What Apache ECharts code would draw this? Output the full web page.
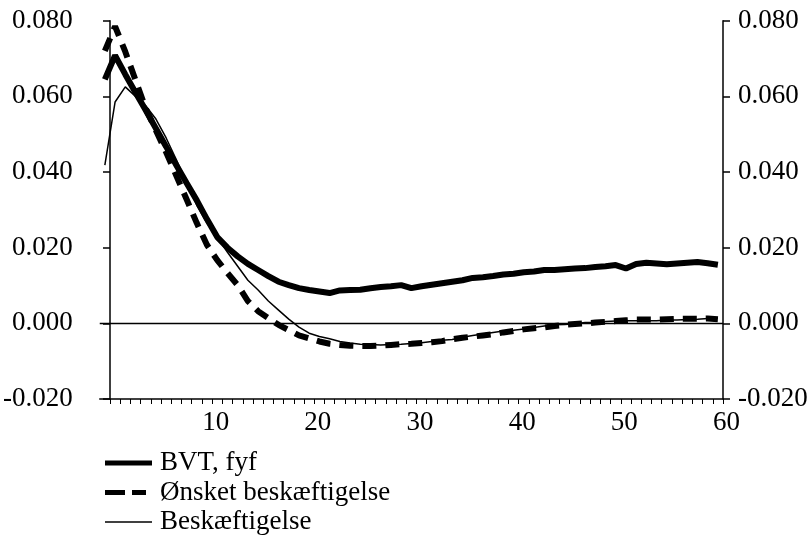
<!DOCTYPE html>
<html>
<head>
<meta charset="utf-8">
<script src="https://cdn.jsdelivr.net/npm/echarts@6/dist/echarts.min.js"></script>
<style>
html,body{margin:0;padding:0;background:#fff;}
#chart{width:811px;height:538px;}
</style>
</head>
<body>
<div id="chart"></div>
<script>
// Periods (horizontal positions, one per observation)
const periods = [0,1,2,3,4,5,6,7,8,9,10,11,12,13,14,15,16,17,18,19,20,21,22,23,24,25,26,27,28,29,30,
  31,32,33,34,35,36,37,38,39,40,41,42,43,44,45,46,47,48,49,50,51,52,53,54,55,56,57,58,59,60];
// X tick labels shown
const xTickLabels = [10,20,30,40,50,60];
// Y tick values
const yTicks = [-0.02, 0.0, 0.02, 0.04, 0.06, 0.08];

const seriesNames = ['BVT, fyf', 'Ønsket beskæftigelse', 'Beskæftigelse'];

const bvt = [0.0645,0.0708,0.0658,0.0610,0.0563,0.0515,0.0467,0.0418,0.0371,0.0325,
  0.0275,0.0228,0.0200,0.0177,0.0157,0.0141,0.0125,0.0110,0.0101,0.0093,
  0.0088,0.0084,0.0080,0.0087,0.0088,0.0089,0.0093,0.0096,0.0098,0.0101,
  0.0093,0.0098,0.0102,0.0106,0.0110,0.0114,0.0120,0.0122,0.0125,0.0129,
  0.0131,0.0135,0.0137,0.0141,0.0141,0.0143,0.0145,0.0146,0.0149,0.0151,
  0.0154,0.0145,0.0157,0.0160,0.0158,0.0156,0.0158,0.0160,0.0162,0.0159,0.0155];

const onsket = [0.0720,0.0785,0.0718,0.0643,0.0568,0.0510,0.0452,0.0390,0.0328,0.0265,
  0.0207,0.0167,0.0133,0.0101,0.0059,0.0032,0.0014,-0.0004,-0.0018,-0.0032,
  -0.0040,-0.0048,-0.0054,-0.0057,-0.0059,-0.0060,-0.0060,-0.0059,-0.0057,-0.0055,
  -0.0054,-0.0052,-0.0050,-0.0047,-0.0042,-0.0038,-0.0035,-0.0032,-0.0029,-0.0024,
  -0.0020,-0.0016,-0.0013,-0.0011,-0.0007,-0.0004,-0.0002,0.0000,0.0002,0.0004,
  0.0006,0.0008,0.0010,0.0010,0.0010,0.0011,0.0012,0.0012,0.0012,0.0013,0.0011];

const beskaeft = [0.0418,0.0585,0.0625,0.0600,0.0575,0.0540,0.0490,0.0432,0.0372,0.0312,
  0.0265,0.0228,0.0188,0.0151,0.0114,0.0088,0.0059,0.0035,0.0011,-0.0010,
  -0.0026,-0.0035,-0.0041,-0.0048,-0.0052,-0.0055,-0.0056,-0.0057,-0.0056,-0.0055,
  -0.0053,-0.0051,-0.0048,-0.0045,-0.0043,-0.0037,-0.0032,-0.0028,-0.0024,-0.0020,
  -0.0018,-0.0015,-0.0011,-0.0007,-0.0004,-0.0003,-0.0001,0.0002,0.0003,0.0005,
  0.0006,0.0007,0.0007,0.0007,0.0007,0.0009,0.0009,0.0010,0.0011,0.0013,0.0014];

const FONT = "'Liberation Serif', 'Times New Roman', serif";
const FS = 27;

function toPairs(vals) {
  // each observation is drawn centred in its period slot on the axis
  return periods.map((p, i) => [p - 0.5, vals[i]]);
}

// legend icon shapes (47 x 5 box)
const ICON_THICK = 'path://M0,0H47V5H0Z';
const ICON_DASH = 'path://M0,0H20V5H0Z M27,0H41V5H27Z M47,5L47,5';
const ICON_THIN = 'path://M0,1.8H47V3.2H0Z M0,0L0,0 M47,5L47,5';

const yAxisBase = {
  type: 'value',
  min: yTicks[0],
  max: yTicks[yTicks.length - 1],
  interval: 0.02,
  splitLine: { show: false },
  axisLine: { show: true, lineStyle: { color: '#000', width: 1.5 } },
  axisTick: { show: true, inside: false, length: 7, lineStyle: { color: '#000', width: 1.5 } },
};

const chart = echarts.init(document.getElementById('chart'), null, { renderer: 'canvas' });
chart.setOption({
  backgroundColor: '#fff',
  animation: false,
  grid: { left: 98, right: 88, top: 20.7, bottom: 139, containLabel: false },
  xAxis: {
    type: 'value',
    min: -1,
    max: 60,
    interval: 1,
    splitLine: { show: false },
    axisLine: { onZero: false, lineStyle: { color: '#000', width: 1.5 } },
    axisTick: { show: true, inside: false, length: 5, lineStyle: { color: '#000', width: 1 } },
    axisLabel: {
      showMinLabel: false,
      margin: 10,
      padding: [0, 0, 0, 7],
      color: '#000',
      fontFamily: FONT,
      fontSize: FS,
      formatter: v => (xTickLabels.indexOf(v) >= 0 ? String(v) : '')
    }
  },
  yAxis: [
    Object.assign({}, yAxisBase, {
      position: 'left',
      axisLabel: { margin: 27, color: '#000', fontFamily: FONT, fontSize: FS, formatter: v => v.toFixed(3) }
    }),
    Object.assign({}, yAxisBase, {
      position: 'right',
      axisLabel: { margin: 15, color: '#000', fontFamily: FONT, fontSize: FS, formatter: v => v.toFixed(3) }
    })
  ],
  legend: {
    orient: 'vertical',
    left: 105,
    top: 449.5,
    padding: 0,
    height: 88,
    itemWidth: 47,
    itemHeight: 5,
    itemGap: 2.5,
    symbolKeepAspect: false,
    itemStyle: { color: '#000', borderWidth: 0 },
    textStyle: { color: '#000', fontFamily: FONT, fontSize: FS, lineHeight: 27, padding: [0, 0, 0, 3] },
    data: [
      { name: seriesNames[0], icon: ICON_THICK },
      { name: seriesNames[1], icon: ICON_DASH },
      { name: seriesNames[2], icon: ICON_THIN }
    ]
  },
  series: [
    {
      name: seriesNames[0],
      type: 'line',
      data: toPairs(bvt),
      symbol: 'none',
      lineStyle: { color: '#000', width: 6, type: 'solid' },
      itemStyle: { color: '#000' },
      markLine: {
        silent: true,
        symbol: 'none',
        label: { show: false },
        lineStyle: { color: '#000', width: 1.3, type: 'solid' },
        data: [{ yAxis: 0 }]
      }
    },
    {
      name: seriesNames[1],
      type: 'line',
      data: toPairs(onsket),
      symbol: 'none',
      lineStyle: { color: '#000', width: 6, type: [14, 9] },
      itemStyle: { color: '#000' }
    },
    {
      name: seriesNames[2],
      type: 'line',
      data: toPairs(beskaeft),
      symbol: 'none',
      lineStyle: { color: '#000', width: 1.5, type: 'solid' },
      itemStyle: { color: '#000' }
    }
  ]
});
</script>
</body>
</html>
